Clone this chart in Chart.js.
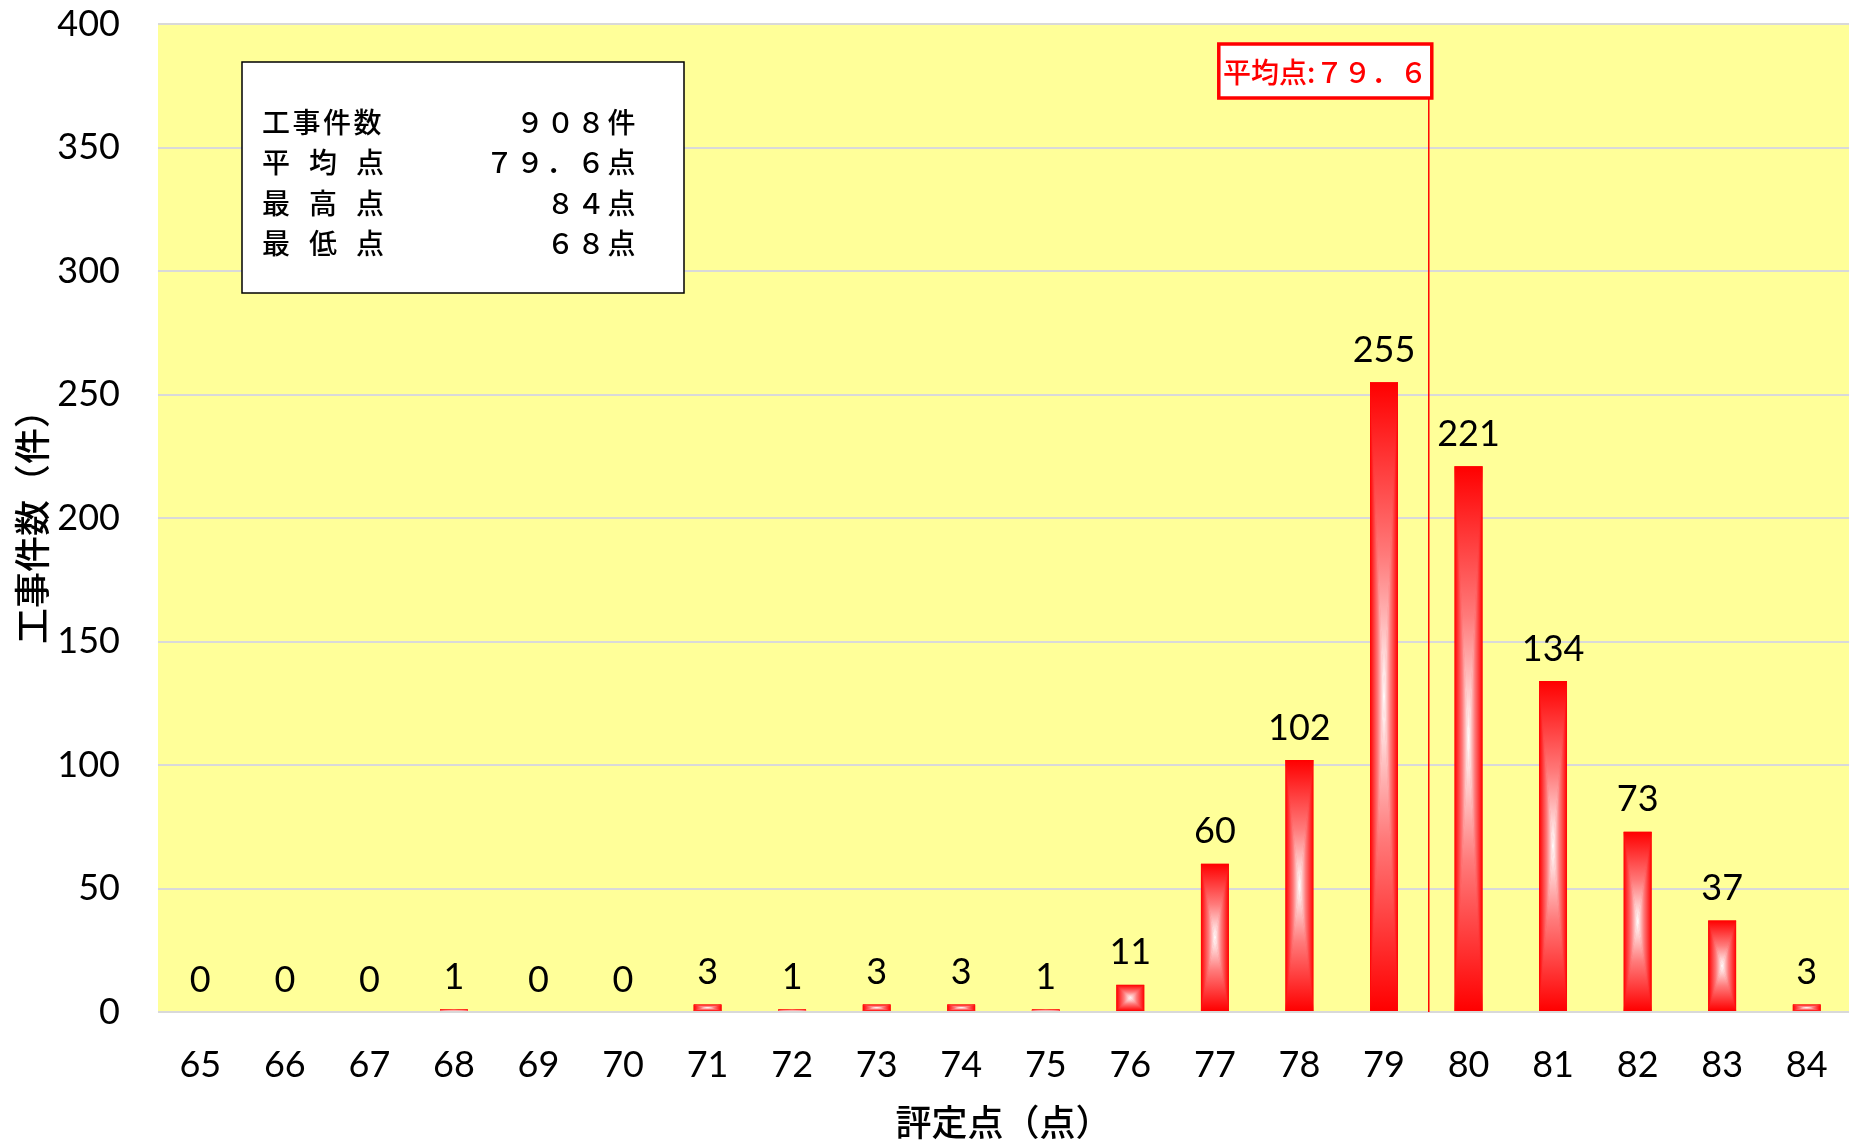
<!DOCTYPE html>
<html>
<head>
<meta charset="utf-8">
<script src="https://cdn.jsdelivr.net/npm/chart.js@4.4.0/dist/chart.umd.min.js"></script>
<style>
  body { margin: 0; background: #fff; }
</style>
</head>
<body>
<canvas id="myChart" width="1849" height="1144"></canvas>
<script>
// 評定点 and 工事件数
const scores = ['65', '66', '67', '68', '69', '70', '71', '72', '73', '74',
                '75', '76', '77', '78', '79', '80', '81', '82', '83', '84'];
const counts = [0, 0, 0, 1, 0, 0, 3, 1, 3, 3, 1, 11, 60, 102, 255, 221, 134, 73, 37, 3];

// summary box
const summaryLabels = ['工事件数', '平\u2002均\u2002点', '最\u2002高\u2002点', '最\u2002低\u2002点'];
const summaryValues = ['９０８件', '７９．６点', '８４点', '６８点'];

// average marker (line position)
const averageText = '平均点:７９．６';
const averageLineAt = 79.53;

const NUM_FONT = '36px Lato, "Noto Sans", sans-serif';
const JP_FONT = '"Noto Sans CJK JP", sans-serif';

// yellow plot background
const plotBackground = {
    id: 'plotBackground',
    beforeDraw(chart) {
        const { ctx, chartArea: a } = chart;
        ctx.save();
        ctx.fillStyle = '#ffff99';
        ctx.fillRect(a.left, a.top, a.right - a.left, a.bottom - a.top);
        ctx.restore();
    }
};

// rectangular "from centre" gradient on each bar, plus value labels
function paintBar(ctx, el) {
    const p = el.getProps(['x', 'y', 'base', 'width'], true);
    const l = p.x - p.width / 2, r = p.x + p.width / 2;
    const t = Math.min(p.y, p.base), b = Math.max(p.y, p.base);
    if (b - t < 0.5) return;
    const cx = p.x, cy = (t + b) / 2;
    const stops = [[0, '#ff0000'], [0.12, '#ff1a1a'], [0.55, '#ff7a7a'], [1, '#ffffff']];
    function tri(pts, x0, y0, x1, y1) {
        const g = ctx.createLinearGradient(x0, y0, x1, y1);
        stops.forEach(s => g.addColorStop(s[0], s[1]));
        ctx.beginPath();
        ctx.moveTo(pts[0][0], pts[0][1]);
        ctx.lineTo(pts[1][0], pts[1][1]);
        ctx.lineTo(pts[2][0], pts[2][1]);
        ctx.closePath();
        ctx.fillStyle = g;
        ctx.strokeStyle = g;
        ctx.fill();
        ctx.stroke();
    }
    ctx.save();
    ctx.beginPath();
    ctx.rect(l, t, r - l, b - t);
    ctx.clip();
    ctx.lineWidth = 0.6;
    tri([[l, t], [cx, cy], [l, b]], l, 0, cx, 0);
    tri([[r, t], [cx, cy], [r, b]], r, 0, cx, 0);
    tri([[l, t], [r, t], [cx, cy]], 0, t, 0, cy);
    tri([[l, b], [r, b], [cx, cy]], 0, b, 0, cy);
    ctx.restore();
}

const barStyle = {
    id: 'barStyle',
    afterDatasetsDraw(chart) {
        const ctx = chart.ctx;
        const meta = chart.getDatasetMeta(0);
        meta.data.forEach((el, i) => {
            paintBar(ctx, el);
            ctx.save();
            ctx.font = NUM_FONT;
            ctx.fillStyle = '#000';
            ctx.textAlign = 'center';
            ctx.textBaseline = 'middle';
            ctx.fillText(String(counts[i]), el.x, el.y - 32);
            ctx.restore();
        });
    }
};

// average line, its label, and the summary box
const annotations = {
    id: 'annotations',
    afterDraw(chart) {
        const { ctx, chartArea: a } = chart;
        const xs = chart.scales.x;
        const lineX = xs.getPixelForValue(averageLineAt - Number(scores[0]));

        // average label box
        const boxW = 213, boxH = 54;
        const boxR = lineX + 3, boxT = a.top + 20;
        ctx.save();
        ctx.strokeStyle = '#ff0000';
        ctx.lineWidth = 1.5;
        ctx.beginPath();
        ctx.moveTo(lineX, boxT + boxH);
        ctx.lineTo(lineX, a.bottom);
        ctx.stroke();
        ctx.fillStyle = '#ffffff';
        ctx.fillRect(boxR - boxW, boxT, boxW, boxH);
        ctx.lineWidth = 3.5;
        ctx.strokeRect(boxR - boxW, boxT, boxW, boxH);
        ctx.fillStyle = '#ff0000';
        ctx.font = '500 28px ' + JP_FONT;
        ctx.textAlign = 'center';
        ctx.textBaseline = 'middle';
        ctx.fillText(averageText, boxR - boxW / 2, boxT + boxH / 2 + 1);
        ctx.restore();

        // summary box
        const sl = a.left + 84, st = a.top + 38, sw = 442, sh = 231;
        ctx.save();
        ctx.fillStyle = '#ffffff';
        ctx.fillRect(sl, st, sw, sh);
        ctx.strokeStyle = '#000000';
        ctx.lineWidth = 1.5;
        ctx.strokeRect(sl, st, sw, sh);
        ctx.fillStyle = '#000000';
        ctx.font = '500 28px ' + JP_FONT;
        ctx.letterSpacing = '2.5px';
        ctx.textBaseline = 'middle';
        summaryLabels.forEach((lab, i) => {
            const yy = st + 60 + i * 40.5;
            ctx.textAlign = 'left';
            ctx.fillText(lab, sl + 20, yy);
            ctx.textAlign = 'right';
            ctx.fillText(summaryValues[i], sl + 396, yy);
        });
        ctx.restore();
    }
};

const ctx1 = document.getElementById('myChart').getContext('2d');
const myChart = new Chart(ctx1, {
    type: 'bar',
    data: {
        labels: scores,
        datasets: [{
            data: counts,
            backgroundColor: '#ff0000',
            borderWidth: 0,
            barPercentage: 0.33,
            categoryPercentage: 1
        }]
    },
    options: {
        responsive: false,
        animation: false,
        layout: { padding: { top: 24, left: 0, right: 0, bottom: 0 } },
        plugins: {
            legend: { display: false },
            tooltip: { enabled: false }
        },
        scales: {
            x: {
                grid: { display: false },
                border: { display: false },
                ticks: { color: '#000', font: { family: 'Lato', size: 36 }, padding: 24, maxRotation: 0, autoSkip: false },
                title: { display: true, text: '評定点（点）', color: '#000', font: { family: 'Noto Sans CJK JP', size: 36, weight: '500' }, padding: { top: 9, bottom: 0 } },
                afterFit(scale) {
                    scale.height = 132;
                    scale.paddingLeft = 0;
                    scale.paddingRight = 0;
                }
            },
            y: {
                min: 0,
                max: 400,
                ticks: { stepSize: 50, color: '#000', font: { family: 'Lato', size: 36 }, padding: 38 },
                grid: { color: '#d9d9d9', lineWidth: 2, drawTicks: false },
                border: { display: false },
                title: { display: true, text: '工事件数（件）', color: '#000', font: { family: 'Noto Sans CJK JP', size: 36, weight: '500' }, padding: { top: 11, bottom: 0 } },
                afterFit(scale) {
                    scale.width = 158;
                    scale.paddingTop = 0;
                    scale.paddingBottom = 0;
                }
            }
        }
    },
    plugins: [plotBackground, barStyle, annotations]
});
</script>
</body>
</html>
